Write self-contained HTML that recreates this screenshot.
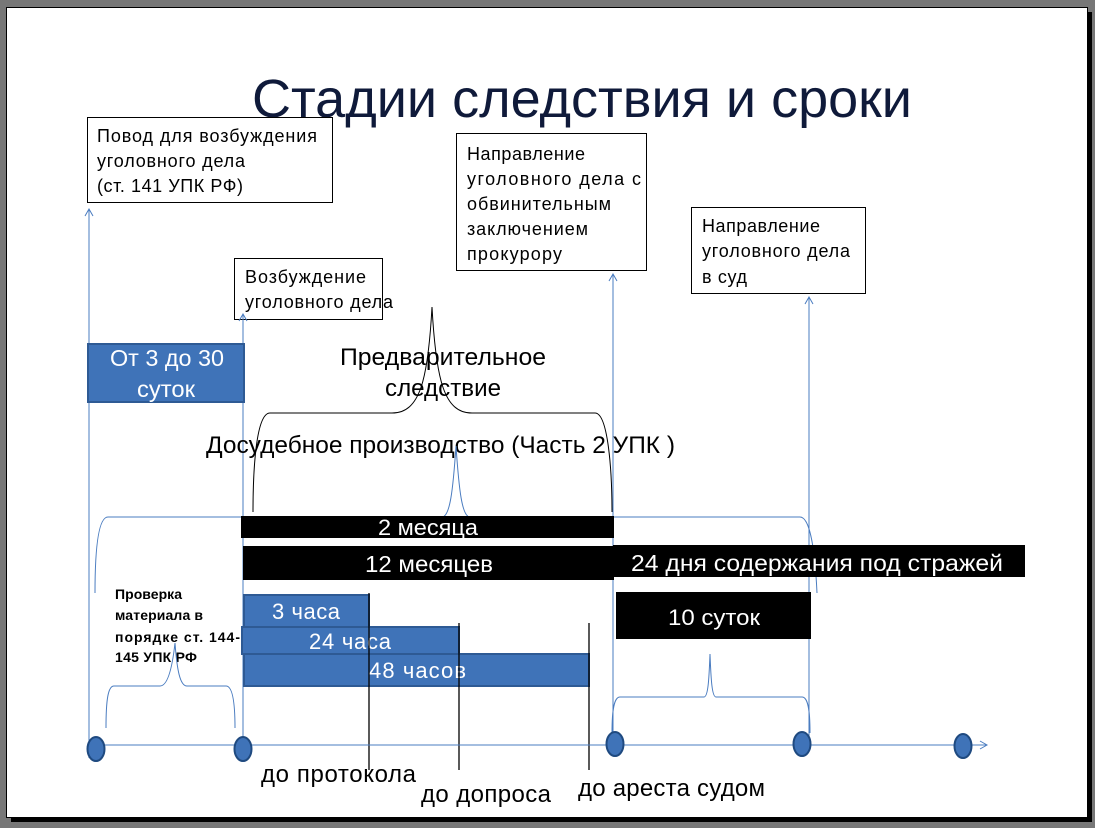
<!DOCTYPE html>
<html><head><meta charset="utf-8"><style>
html,body{margin:0;padding:0;background:#777;}
svg{display:block;}
text{font-family:"Liberation Sans","DejaVu Sans",sans-serif;}
</style></head><body>
<svg width="1095" height="828" viewBox="0 0 1095 828" xmlns="http://www.w3.org/2000/svg">
<rect x="0" y="0" width="1095" height="828" fill="#777"/>
<rect x="11" y="12" width="1081" height="810" fill="#000"/>
<rect x="6.5" y="7.5" width="1081" height="810" fill="#fff" stroke="#000" stroke-width="1"/>

<text x="252" y="117" font-size="54" fill="#0f1a3a" textLength="660" lengthAdjust="spacingAndGlyphs">Стадии следствия и сроки</text>

<g stroke="#000" stroke-width="1" fill="#fff">
<rect x="87.5" y="117.5" width="245" height="85"/>
<rect x="456.5" y="133.5" width="190" height="137"/>
<rect x="691.5" y="207.5" width="174" height="86"/>
<rect x="234.5" y="258.5" width="148" height="61"/>
</g>
<g font-size="18" fill="#000" lengthAdjust="spacingAndGlyphs">
<text x="97" y="142" textLength="220">Повод для возбуждения</text>
<text x="97" y="167" textLength="148">уголовного дела</text>
<text x="97" y="192" textLength="146">(ст. 141 УПК РФ)</text>
<text x="467" y="160" textLength="118">Направление</text>
<text x="467" y="185" textLength="174">уголовного дела с</text>
<text x="467" y="210" textLength="144">обвинительным</text>
<text x="467" y="235" textLength="121">заключением</text>
<text x="467" y="260" textLength="95">прокурору</text>
<text x="702" y="232" textLength="118">Направление</text>
<text x="702" y="257" textLength="148">уголовного дела</text>
<text x="702" y="283" textLength="45">в суд</text>
<text x="245" y="283" textLength="121">Возбуждение</text>
<text x="245" y="308" textLength="148">уголовного дела</text>
</g>

<g stroke="#4a7cc0" stroke-width="1" fill="none">
<line x1="89" y1="758" x2="89" y2="209"/><polyline points="85,216 89,209 93,216"/>
<line x1="243" y1="745" x2="243" y2="314"/><polyline points="239,321 243,314 247,321"/>
<line x1="613" y1="745" x2="613" y2="274"/><polyline points="609,281 613,274 617,281"/>
<line x1="809" y1="745" x2="809" y2="297"/><polyline points="805,304 809,297 813,304"/>
</g>

<rect x="88" y="344" width="156" height="58" fill="#3f73b8" stroke="#2e5a94" stroke-width="2"/>
<text x="110" y="366" font-size="23" fill="#fff" textLength="114" lengthAdjust="spacingAndGlyphs">От 3 до 30</text>
<text x="137" y="397" font-size="23" fill="#fff" textLength="58" lengthAdjust="spacingAndGlyphs">суток</text>

<text x="340" y="365" font-size="24" textLength="206" lengthAdjust="spacingAndGlyphs">Предварительное</text>
<text x="385" y="396" font-size="24" textLength="116" lengthAdjust="spacingAndGlyphs">следствие</text>

<path d="M253,512 C253,470 256,413 270,413 L392,413 C420,413 428,380 432,307 C436,380 444,413 472,413 L595,413 C608,413 612,470 612,512" fill="none" stroke="#000" stroke-width="1"/>

<text x="206" y="453" font-size="24" textLength="469" lengthAdjust="spacingAndGlyphs">Досудебное производство (Часть 2 УПК )</text>

<path d="M95,593 C95,550 98,517 108,517 L442,517 C450,517 453,490 456,446 C459,490 462,517 470,517 L800,517 C810,517 815,550 817,593" fill="none" stroke="#4a7cc0" stroke-width="1"/>

<rect x="241" y="516" width="373" height="22" fill="#000"/>
<text x="378" y="535" font-size="22" fill="#fff" textLength="100" lengthAdjust="spacingAndGlyphs">2 месяца</text>
<rect x="243" y="546" width="371" height="34" fill="#000"/>
<rect x="613" y="545" width="412" height="32" fill="#000"/>
<text x="365" y="572" font-size="23" fill="#fff" textLength="128" lengthAdjust="spacingAndGlyphs">12 месяцев</text>
<text x="631" y="571" font-size="23" fill="#fff" textLength="372" lengthAdjust="spacingAndGlyphs">24 дня содержания под стражей</text>

<g fill="#3f73b8" stroke="#2e5a94" stroke-width="2">
<rect x="244" y="595" width="125" height="32"/>
<rect x="242" y="627" width="217" height="27"/>
<rect x="244" y="654" width="345" height="32"/>
</g>
<g font-size="22" fill="#fff" lengthAdjust="spacingAndGlyphs">
<text x="272" y="619" textLength="68">3 часа</text>
<text x="309" y="649" textLength="82">24 часа</text>
<text x="369" y="678" textLength="97">48 часов</text>
</g>
<g stroke="#000" stroke-width="1.3">
<line x1="369" y1="593" x2="369" y2="770"/>
<line x1="459" y1="623" x2="459" y2="770"/>
<line x1="589" y1="623" x2="589" y2="770"/>
</g>

<rect x="616" y="592" width="195" height="47" fill="#000"/>
<text x="668" y="625" font-size="22" fill="#fff" textLength="92" lengthAdjust="spacingAndGlyphs">10 суток</text>

<g font-size="14" font-weight="bold" fill="#000" lengthAdjust="spacingAndGlyphs">
<text x="115" y="599" textLength="67">Проверка</text>
<text x="115" y="620" textLength="88">материала в</text>
<text x="115" y="642" textLength="125">порядке ст. 144-</text>
<text x="115" y="662" textLength="82">145 УПК РФ</text>
</g>

<g fill="none" stroke="#4a7cc0" stroke-width="1">
<path d="M106,728 C106,700 108,686 114,686 L160,686 C167,686 172,670 175,643 C177,670 180,686 187,686 L226,686 C232,686 235,700 235,728"/>
<path d="M612,733 C612,710 614,697 620,697 L704,697 C708,697 709,680 710,654 C711,680 712,697 716,697 L802,697 C808,697 810,710 810,733"/>
<line x1="89" y1="745" x2="987" y2="745"/>
<polyline points="980,741 987,745 980,749"/>
</g>
<g fill="#3f73b8" stroke="#1f4a80" stroke-width="2">
<ellipse cx="96" cy="749" rx="8.5" ry="12"/>
<ellipse cx="243" cy="749" rx="8.5" ry="12"/>
<ellipse cx="615" cy="744" rx="8.5" ry="12"/>
<ellipse cx="802" cy="744" rx="8.5" ry="12"/>
<ellipse cx="963" cy="746" rx="8.5" ry="12"/>
</g>

<g font-size="24" fill="#000" lengthAdjust="spacingAndGlyphs">
<text x="261" y="782" textLength="155">до протокола</text>
<text x="421" y="802" textLength="130">до допроса</text>
<text x="578" y="796" textLength="187">до ареста судом</text>
</g>
</svg>
</body></html>
